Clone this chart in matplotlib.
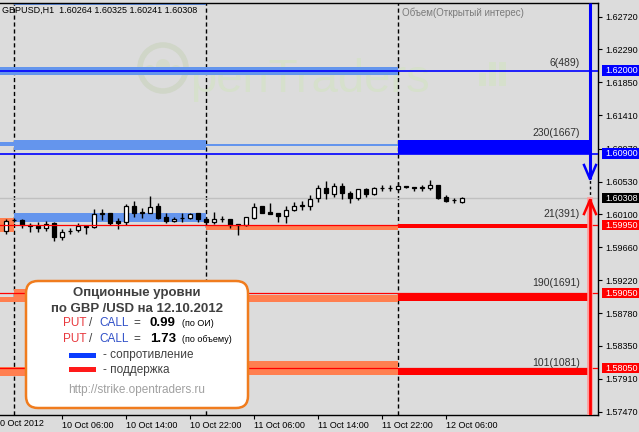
import numpy as np
import matplotlib.pyplot as plt
from matplotlib.patches import Rectangle, FancyBboxPatch, Circle
from matplotlib.transforms import Affine2D, blended_transform_factory

plt.rcParams['font.family'] = ['Liberation Sans', 'DejaVu Sans']

# hourly GBPUSD candles, hour 0 = 10 Oct 2012 00:00
hours = np.arange(-1, 57)
opens = [1.59870, 1.60020, 1.60020, 1.59960, 1.59935, 1.59915, 1.59975, 1.59790, 1.59870, 1.59890,
         1.59940, 1.59925, 1.60100, 1.60110, 1.60005, 1.59995, 1.60205, 1.60120, 1.60120, 1.60210,
         1.60055, 1.60010, 1.60045, 1.60050, 1.60110, 1.60040, 1.59995, 1.60035, 1.60040, 1.59960,
         1.59955, 1.60050, 1.60205, 1.60130, 1.60115, 1.60075, 1.60155, 1.60210, 1.60205, 1.60310,
         1.60440, 1.60370, 1.60475, 1.60375, 1.60310, 1.60430, 1.60360, 1.60440, 1.60445, 1.60435,
         1.60475, 1.60465, 1.60450, 1.60445, 1.60485, 1.60330, 1.60280, 1.60264]
highs = [1.60040, 1.60050, 1.60030, 1.59975, 1.59990, 1.60010, 1.60000, 1.59900, 1.59920, 1.59980,
         1.59950, 1.60160, 1.60160, 1.60120, 1.60050, 1.60230, 1.60270, 1.60185, 1.60340, 1.60240,
         1.60115, 1.60060, 1.60115, 1.60120, 1.60120, 1.60060, 1.60125, 1.60080, 1.60040, 1.59965,
         1.60065, 1.60240, 1.60205, 1.60245, 1.60115, 1.60200, 1.60260, 1.60270, 1.60350, 1.60480,
         1.60535, 1.60510, 1.60510, 1.60400, 1.60430, 1.60445, 1.60455, 1.60480, 1.60480, 1.60520,
         1.60475, 1.60465, 1.60490, 1.60550, 1.60490, 1.60350, 1.60310, 1.60325]
lows = [1.59840, 1.59990, 1.59920, 1.59860, 1.59860, 1.59870, 1.59740, 1.59760, 1.59830, 1.59860,
        1.59830, 1.59920, 1.60020, 1.59960, 1.59900, 1.59960, 1.60060, 1.60050, 1.60110, 1.60030,
        1.59975, 1.59995, 1.59995, 1.60040, 1.59990, 1.59970, 1.59970, 1.59995, 1.59915, 1.59820,
        1.59935, 1.60040, 1.60115, 1.60095, 1.60000, 1.59980, 1.60140, 1.60150, 1.60150, 1.60255,
        1.60305, 1.60330, 1.60300, 1.60245, 1.60280, 1.60320, 1.60350, 1.60410, 1.60410, 1.60405,
        1.60445, 1.60400, 1.60405, 1.60420, 1.60295, 1.60265, 1.60250, 1.60241]
closes = [1.60010, 1.60020, 1.59955, 1.59940, 1.59920, 1.59970, 1.59790, 1.59860, 1.59880, 1.59940,
          1.59930, 1.60095, 1.60110, 1.59985, 1.59985, 1.60205, 1.60120, 1.60125, 1.60190, 1.60050,
          1.60005, 1.60040, 1.60050, 1.60095, 1.60035, 1.59995, 1.60040, 1.60035, 1.59960, 1.59960,
          1.60055, 1.60195, 1.60115, 1.60105, 1.60075, 1.60155, 1.60205, 1.60215, 1.60305, 1.60440,
          1.60375, 1.60470, 1.60375, 1.60310, 1.60430, 1.60360, 1.60450, 1.60445, 1.60445, 1.60470,
          1.60455, 1.60445, 1.60455, 1.60485, 1.60310, 1.60275, 1.60285, 1.60308]

# option levels
levels = [1.62000, 1.60900, 1.59950, 1.59050, 1.58050]
level_kind = ['res', 'res', 'sup', 'sup', 'sup']
level_text = ['6(489)', '230(1667)', '21(391)', '190(1691)', '101(1081)']
level_text_y = [1.62106, 1.61176, 1.60100, 1.59183, 1.58120]

# open interest bands per day: start hour, end hour, low, high, kind
band_t0 = [-1.75, -1.75, 0, 24, 48, 0, -1.75, 24, 48, -1.75, 0, 24, 48, -1.75, 0, 24, 48, 0]
band_t1 = [48, 0, 24, 48, 71.9, 24, 0, 48, 71.9, 0, 24, 48, 71.9, 0, 24, 48, 71.9, 24]
band_lo = [1.61947, 1.61004, 1.60950, 1.61004, 1.60897, 1.59993, 1.59861, 1.59894, 1.59914,
           1.58931, 1.58931, 1.58931, 1.58944, 1.57948, 1.57948, 1.57961, 1.57961, 1.62877]
band_hi = [1.62053, 1.61057, 1.61083, 1.61034, 1.61083, 1.60113, 1.60047, 1.59954, 1.59967,
           1.58998, 1.59104, 1.59024, 1.59050, 1.58068, 1.58068, 1.58147, 1.58054, 1.62950]
band_kind = ['res_old', 'res_old', 'res_old', 'res_old', 'res_new', 'res_old', 'sup_old', 'sup_old',
             'sup_new', 'sup_old', 'sup_old', 'sup_old', 'sup_new', 'sup_old', 'sup_old', 'sup_old',
             'sup_new', 'res_old']

arrow_hour = 72
arrow_down_tip = 1.60565
arrow_up_tip = 1.60286

y_ticks = [1.62720, 1.62290, 1.61850, 1.61410, 1.60970, 1.60530, 1.60100,
           1.59660, 1.59220, 1.58780, 1.58350, 1.57910, 1.57470]
x_tick_hours = [6, 14, 22, 30, 38, 46, 54]
x_tick_labels = ['10 Oct 06:00', '10 Oct 14:00', '10 Oct 22:00', '11 Oct 06:00',
                 '11 Oct 14:00', '11 Oct 22:00', '12 Oct 06:00']
day_starts = [0, 24, 48]

put_call_oi = 0.99
put_call_vol = 1.73

band_colors = {'res_old': '#6495ed', 'res_new': '#0000ff', 'sup_old': '#ff7f50', 'sup_new': '#ff0000'}
line_colors = {'res': '#0000ff', 'sup': '#ff0000'}
bg = '#dcdcdc'

W, H = 639, 432
fig = plt.figure(figsize=(W / 100, H / 100), dpi=100)
fig.patch.set_facecolor(bg)
pix = Affine2D().scale(1, -1).translate(0, H)  # pixel coords, origin top-left

ax = fig.add_axes([0, 17 / H, 598 / W, 412 / H])
ax.set_facecolor(bg)
ax.set_xlim(-1.75, 73)
ax.set_ylim(1.57430, 1.62903)
for s in ['top', 'right', 'bottom']:
    ax.spines[s].set_color('black')
    ax.spines[s].set_linewidth(1)
ax.spines['left'].set_visible(False)

# watermark
ax.add_patch(Circle((163, 68), 23, transform=pix, fill=False, ec='#d0d6c8', lw=4, zorder=0.5))
for cx, cy, r in [(150, 70, 5), (163, 66, 7), (176, 70, 5)]:
    ax.add_patch(Circle((cx, cy), r, transform=pix, fc='#d5dbcc', ec='none', zorder=0.5))
ax.text(190, 92, 'penTraders', transform=pix, fontsize=34, color='#d6e0cc', zorder=0.5)
for bx, btop in [(479, 73), (489, 62), (499, 62)]:
    ax.add_patch(Rectangle((bx, btop), 7, 86 - btop, transform=pix, fc='#d6e0cc', ec='none', zorder=0.5))

# day separators
for d in day_starts:
    ax.axvline(d, color='black', lw=1, ls=(0, (3, 2)), zorder=1)

# bands
for t0, t1, lo, hi, k in zip(band_t0, band_t1, band_lo, band_hi, band_kind):
    ax.add_patch(Rectangle((t0, lo), t1 - t0, hi - lo, fc=band_colors[k], ec='none', zorder=2))

# candles
o = np.array(opens)
c = np.array(closes)
up = c >= o
ax.vlines(hours, lows, highs, color='black', lw=1, zorder=3)
ax.bar(hours[up], np.maximum(c[up] - o[up], 0.00004), bottom=o[up], width=0.62,
       fc='white', ec='black', lw=0.9, zorder=4)
ax.bar(hours[~up], np.maximum(o[~up] - c[~up], 0.00004), bottom=c[~up], width=0.62,
       fc='black', ec='black', lw=0.9, zorder=4)

# current price line
ax.axhline(closes[-1], color='#c0c0c0', lw=1, zorder=2.5)

# level lines and labels
for lv, k, txt, ty in zip(levels, level_kind, level_text, level_text_y):
    ax.axhline(lv, color=line_colors[k], lw=1.2 if k == 'res' else 0.9, zorder=5)
    ax.text(70.7, ty, txt, ha='right', va='center', fontsize=7.5, color='#303030', zorder=6)

# arrows
top = ax.get_ylim()[1]
bot = ax.get_ylim()[0]
ph = 1 / 7527
ax.plot([arrow_hour, arrow_hour], [top, arrow_down_tip], color='#0000ff', lw=2.2, zorder=6,
        solid_capstyle='butt')
ax.plot([arrow_hour - 0.75, arrow_hour, arrow_hour + 0.75],
        [arrow_down_tip + 14 * ph, arrow_down_tip, arrow_down_tip + 14 * ph], color='#0000ff', lw=1.8, zorder=6)
ax.plot([arrow_hour, arrow_hour], [arrow_up_tip, arrow_down_tip], color='black', lw=1, ls=(0, (2, 2)), zorder=6)
ax.plot([arrow_hour, arrow_hour], [bot, arrow_up_tip], color='#ff9a9a', lw=4, zorder=6)
ax.plot([arrow_hour, arrow_hour], [bot, arrow_up_tip], color='#ff0000', lw=2, zorder=6)
ax.plot([arrow_hour - 0.75, arrow_hour, arrow_hour + 0.75],
        [arrow_up_tip - 14 * ph, arrow_up_tip, arrow_up_tip - 14 * ph], color='#ff0000', lw=1.8, zorder=6)

# axes ticks
ax.yaxis.tick_right()
ax.set_yticks(y_ticks)
ax.set_yticklabels([f'{t:.5f}' for t in y_ticks])
ax.tick_params(axis='y', length=3, width=0.8, pad=2, labelsize=6.5, colors='black')
ax.set_xticks(x_tick_hours)
ax.set_xticklabels(x_tick_labels)
for lab in ax.get_xticklabels():
    lab.set_ha('left')
ax.tick_params(axis='x', length=3, width=0.8, pad=1, labelsize=6.5, colors='black')
ax.text(-5, 424, '10 Oct 2012', transform=pix, fontsize=6.5, va='center', ha='left', clip_on=False)

# highlighted prices on the scale
yb = blended_transform_factory(ax.transAxes, ax.transData)
marks = [(lv, line_colors[k]) for lv, k in zip(levels, level_kind)] + [(closes[-1], 'black')]
for p, col in marks:
    ax.add_patch(Rectangle((602 / 598, p - 5 * ph), 40 / 598, 10.5 * ph, transform=yb, fc=col, ec='none',
                           clip_on=False, zorder=10))
    ax.text(605 / 598, p, f'{p:.5f}', transform=yb, color='white', fontsize=6.5, va='center',
            ha='left', clip_on=False, zorder=11)

# header texts
ax.text(2, 10, f'GBPUSD,H1  {opens[-1]:.5f} {highs[-1]:.5f} {lows[-1]:.5f} {closes[-1]:.5f}',
        transform=pix, fontsize=6.5, va='center', zorder=7)
ax.text(402, 13, 'Объем(Открытый интерес)', transform=pix, fontsize=7, color='#7a7a7a', va='center', zorder=7)

# info box
box = FancyBboxPatch((26, 281), 222, 127, boxstyle='round,pad=0,rounding_size=12', transform=pix,
                     fc='white', ec='#f07c1e', lw=1.8, zorder=20, clip_on=False)
ax.add_patch(box)
kw = dict(transform=pix, va='center', zorder=21, clip_on=False)
ax.text(137, 293, 'Опционные уровни', ha='center', fontsize=9.5, weight='bold', color='#404040', **kw)
ax.text(137, 309, 'по GBP /USD на 12.10.2012', ha='center', fontsize=9.5, weight='bold', color='#404040', **kw)
for yy, val, note in [(323, put_call_oi, '(по ОИ)'), (339, put_call_vol, '(по объему)')]:
    ax.text(63, yy, 'PUT', fontsize=8.5, color='#e8383d', **kw)
    ax.text(89, yy, '/', fontsize=8.5, color='#404040', **kw)
    ax.text(99, yy, 'CALL', fontsize=8.5, color='#3050c8', **kw)
    ax.text(133, yy, '=', fontsize=8.5, color='#404040', **kw)
    ax.text(150, yy, f'{val:.2f}', fontsize=9.5, weight='bold', color='black', **kw)
    ax.text(182, yy + 1, note, fontsize=6.5, color='black', **kw)
ax.add_patch(Rectangle((69, 352.5), 27, 5, transform=pix, fc='#0a3cff', ec='none', zorder=21))
ax.add_patch(Rectangle((69, 367), 27, 5, transform=pix, fc='#ff1a1a', ec='none', zorder=21))
ax.text(103, 355, '- сопротивление', fontsize=8.5, color='#404040', **kw)
ax.text(103, 369.5, '- поддержка', fontsize=8.5, color='#404040', **kw)
ax.text(137, 390, 'http://strike.opentraders.ru', ha='center', fontsize=8.5, color='#a0a0a0', **kw)

fig.savefig('out.png', dpi=100, facecolor=bg)
